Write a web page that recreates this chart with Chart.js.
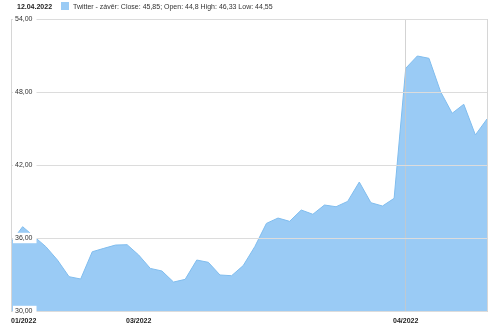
<!DOCTYPE html>
<html>
<head>
<meta charset="utf-8">
<script src="https://cdn.jsdelivr.net/npm/chart.js@4.4.1/dist/chart.umd.min.js"></script>
<style>
    html, body { margin: 0; padding: 0; background: #fff; }
    body { width: 500px; height: 326px; position: relative; overflow: hidden; font-family: "Liberation Sans", Arial, sans-serif; }
    #header { position: absolute; left: 17px; top: 2px; font-size: 7px; color: #333; white-space: nowrap; line-height: 10px; }
    #header b { display: inline-block; width: 44px; color: #222; }
    #header .swatch { display: inline-block; width: 8px; height: 8px; background: #9acbf5; vertical-align: -1px; margin-right: 4px; }
    #chartBox { position: absolute; left: 0; top: 0; width: 500px; height: 326px; }
</style>
</head>
<body>
<div id="chartBox"><canvas id="priceChart"></canvas></div>
<div id="header"><b>12.04.2022</b><span class="swatch"></span>Twitter - závěr: Close: 45,85; Open: 44,8 High: 46,33 Low: 44,55</div>
<script>
// Closing prices, one per trading day (11.02.2022 - 12.04.2022)
const closePrices = [
    35.65, 36.93, 36.11, 35.29, 34.19, 32.82, 32.63, 34.87, 35.15, 35.42,
    35.45, 34.60, 33.50, 33.29, 32.38, 32.60, 34.19, 34.00, 32.96, 32.90,
    33.73, 35.29, 37.20, 37.64, 37.37, 38.30, 37.95, 38.71, 38.57, 39.01,
    40.60, 38.90, 38.63, 39.26, 49.95, 50.96, 50.77, 48.03, 46.25, 46.99,
    44.47, 45.78
];

// Month labels shown on the x axis (index -> label)
const monthLabelIndex = [0, 11, 34];
const monthLabels = ['01/2022', '03/2022', '04/2022'];

const yTicks = [30, 36, 42, 48, 54];

const xLabels = closePrices.map((v, i) => {
    const k = monthLabelIndex.indexOf(i);
    return k >= 0 ? monthLabels[k] : '';
});

function fmt(v) {
    return v.toFixed(2).replace('.', ',');
}

const ctx = document.getElementById('priceChart').getContext('2d');

new Chart(ctx, {
    type: 'line',
    data: {
        labels: xLabels,
        datasets: [{
            label: 'Twitter',
            data: closePrices,
            borderColor: '#80bdee',
            backgroundColor: 'rgba(100, 175, 240, 0.65)',
            borderWidth: 1,
            pointRadius: 0,
            fill: 'start',
            tension: 0
        }]
    },
    options: {
        responsive: true,
        maintainAspectRatio: false,
        animation: false,
        layout: { padding: { left: 11, right: 13, top: 19, bottom: 0 } },
        plugins: {
            legend: { display: false },
            tooltip: { enabled: false }
        },
        scales: {
            x: {
                offset: false,
                afterFit: s => { s.height = 15; },
                border: { color: '#d6d6d6', z: 1 },
                grid: {
                    z: 1,
                    drawTicks: false,
                    color: c => (c.tick && c.tick.label === '04/2022') ? 'rgba(200,200,200,0.8)' : 'rgba(0,0,0,0)'
                },
                ticks: {
                    z: 1,
                    autoSkip: false,
                    maxRotation: 0,
                    align: 'inner',
                    padding: 6,
                    color: '#222',
                    font: { family: '"Liberation Sans", Arial, sans-serif', size: 7, weight: 'bold' }
                }
            },
            y: {
                min: 30,
                max: 54,
                afterFit: s => { s.width = 0; },
                afterBuildTicks: s => { s.ticks = yTicks.map(v => ({ value: v })); },
                border: { color: '#d6d6d6', z: 1 },
                grid: { z: 1, color: '#dcdcdc', drawTicks: false },
                ticks: {
                    z: 2,
                    mirror: true,
                    padding: 4,
                    color: '#333',
                    showLabelBackdrop: true,
                    backdropColor: '#ffffff',
                    backdropPadding: { left: 2, right: 4, top: 1, bottom: 1 },
                    font: { family: '"Liberation Sans", Arial, sans-serif', size: 7 },
                    callback: v => fmt(v)
                }
            },
            y2: {
                position: 'right',
                min: 30,
                max: 54,
                afterFit: s => { s.width = 0; },
                border: { color: '#d6d6d6', z: 1 },
                grid: { drawOnChartArea: false, drawTicks: false },
                ticks: { display: false }
            }
        }
    }
});
</script>
</body>
</html>
